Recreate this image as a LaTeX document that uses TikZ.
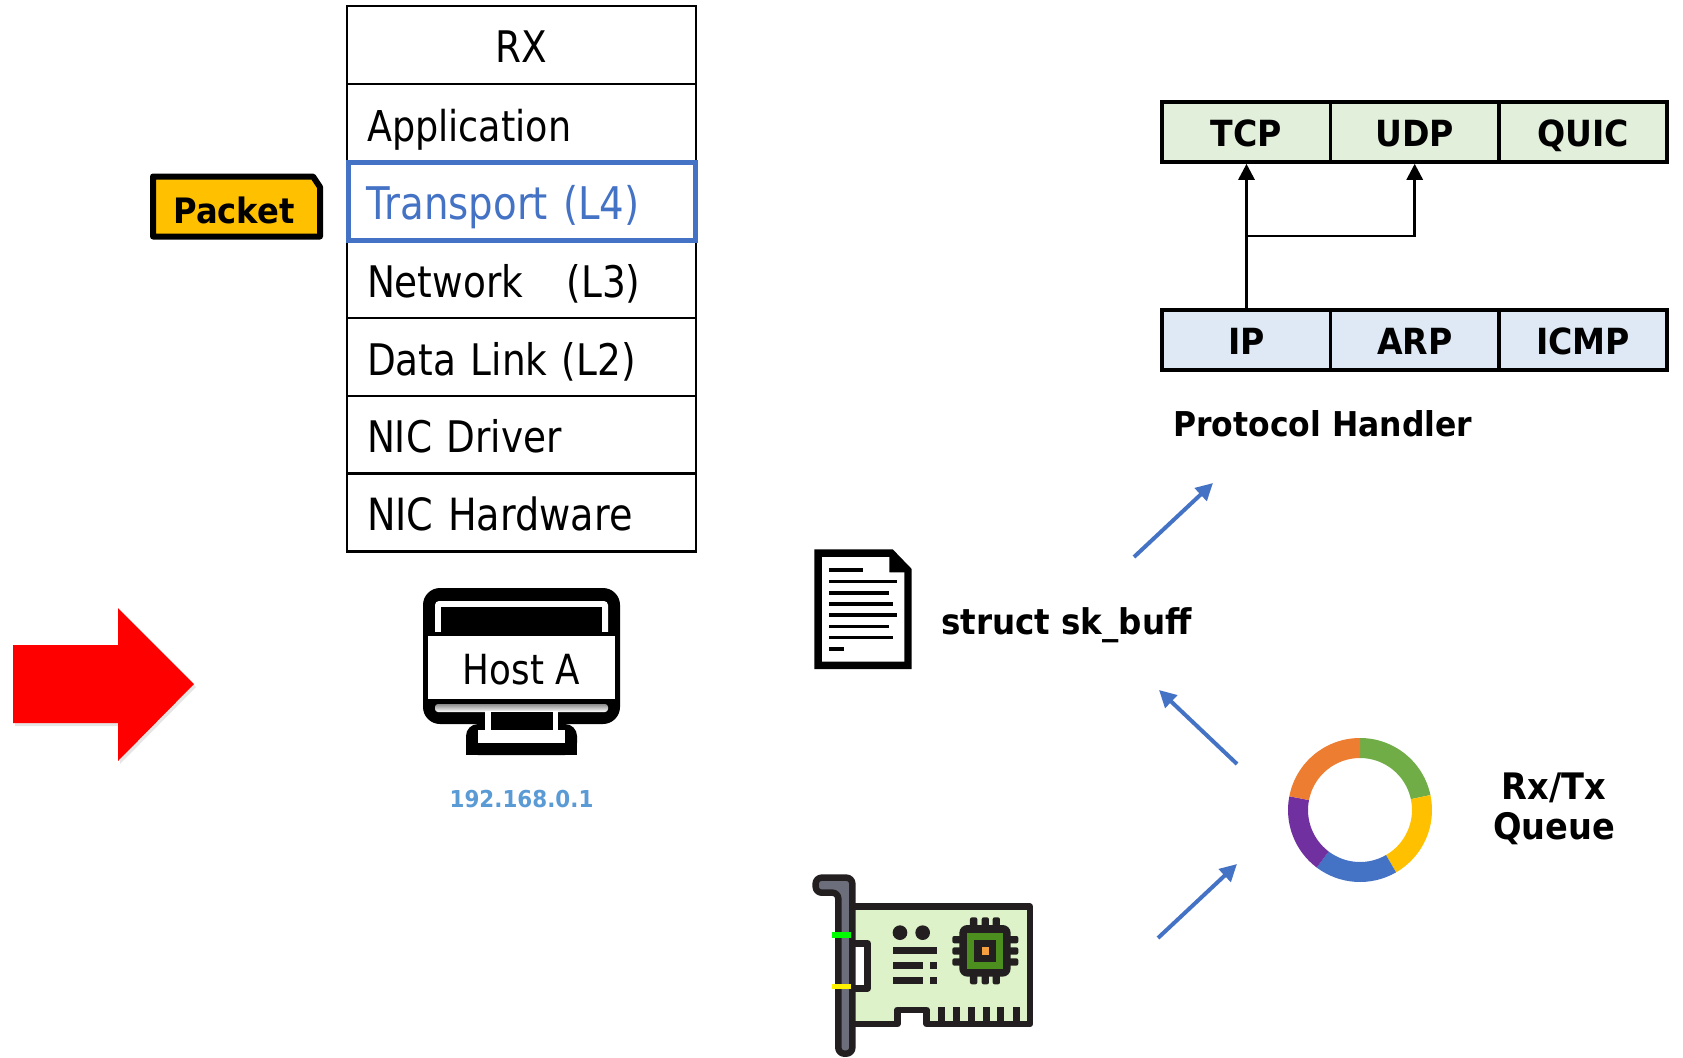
\documentclass[tikz,border=0pt]{standalone}
\usepackage{fontspec}
\usetikzlibrary{arrows.meta,calc}
\setmainfont{DejaVu Sans}
\newfontfamily\regfont[FakeStretch=0.86]{DejaVu Sans}
\newfontfamily\boldfont[FakeStretch=0.92]{DejaVu Sans Bold}
\definecolor{blueln}{HTML}{4472C4}
\definecolor{ipblue}{HTML}{5B9BD5}
\definecolor{amber}{HTML}{FFC000}
\definecolor{greenbox}{HTML}{E2EFDA}
\definecolor{bluebox}{HTML}{DEE9F5}
\definecolor{nicdark}{HTML}{231F20}
\definecolor{nicboard}{HTML}{DDF2C8}
\definecolor{nicgrey}{HTML}{6D6E7B}
\definecolor{chipgreen}{HTML}{4C8F1E}
\definecolor{chiporange}{HTML}{F5A040}
\tikzset{
  layer/.style={draw=black,line width=2.6pt,minimum width=349pt,minimum height=77.8pt,
    inner sep=0pt,text width=309pt,align=left,text height=44pt,text depth=8pt,
    font=\regfont\fontsize{43.5}{46}\selectfont},
  hilite/.style={layer,draw=blueln,line width=5pt,text=blueln,minimum width=347pt,text width=310pt,
    font=\regfont\fontsize{45}{48}\selectfont},
  cell/.style={draw=black,line width=3.6pt,minimum width=168.5pt,minimum height=60pt,inner sep=0pt,
    text height=28pt,text depth=0pt,font=\boldfont\fontsize{36}{40}\selectfont},
  tcell/.style={cell,fill=greenbox},
  bcell/.style={cell,fill=bluebox},
  lbl/.style={inner sep=0pt,font=\boldfont\fontsize{35}{40}\selectfont,align=center},
  flow/.style={draw=blueln,line width=4pt,-{Triangle[length=17pt,width=17pt]}},
  link/.style={draw=black,line width=2.8pt,-{Triangle[length=16pt,width=16pt]}},
  nicline/.style={draw=nicdark,line width=6.5pt,line join=round},
}
\begin{document}
\begin{tikzpicture}[x=1pt,y=-1pt]
\path[use as bounding box] (0,0) rectangle (1683,1057);

% protocol stack
\node[layer,align=center] (rx)  at (521.5,45)  {RX};
\node[layer,font=\regfont\fontsize{42.5}{46}\selectfont] (app) at (521.5,123) {Application};
\node[layer] (net) at (521.5,279)  {Network\hspace{1em}(L3)};
\node[layer] (dl)  at (521.5,357)  {Data Link (L2)};
\node[layer] (drv) at (521.5,434.7)  {NIC Driver};
\node[layer,font=\regfont\fontsize{44.4}{46}\selectfont] (hw)  at (521.5,512.5)  {NIC Hardware};
\node[hilite] (tr) at (521.5,201.3) {Transport (L4)};

% packet
\draw[line width=6pt,fill=amber,line join=round] (153,176.5) -- (313,176.5) -- (320,187) -- (320,236.5) -- (153,236.5) -- cycle;
\node[lbl] (pkt) at (234,210) {Packet};

% red arrow
\fill[black,opacity=.1] (15,648) -- (120,648) -- (120,611) -- (196,687) -- (120,764) -- (120,726) -- (15,726) -- cycle;
\fill[red] (13,645) -- (118,645) -- (118,608) -- (194,684) -- (118,761) -- (118,723) -- (13,723) -- cycle;

% monitor
\fill[black,rounded corners=17pt] (423,588) rectangle (620,724);
\fill[black,rounded corners=12pt] (466,755) -- (466,724) -- (577,724) -- (577,755) -- cycle;
\fill[black] (466,740) rectangle (577,755);
\fill[white,rounded corners=4pt] (435,601) rectangle (608,640);
\fill[black] (441,607) rectangle (602,640);
\fill[black] (428,632) rectangle (615,640);
\shade[top color=black!45,bottom color=white,rounded corners=3pt] (435,704) rectangle (608,712);
\fill[white] (485,711) rectangle (558,724);
\fill[black] (491,712) rectangle (553,730);
\fill[white] (485,724) rectangle (491,731);
\fill[white] (553,724) rectangle (558,731);
\fill[white] (478,730) rectangle (565,743);
\node[fill=white,minimum width=187pt,minimum height=63pt,inner sep=0pt,text height=34pt,text depth=0pt,font=\regfont\fontsize{41.5}{44}\selectfont] (host) at (521.5,667.5) {Host A};
\node[inner sep=0pt,text=ipblue,font=\boldfont\fontsize{23.3}{28}\selectfont] (ip) at (521.5,799.5) {192.168.0.1};

% document icon
\fill[black] (814.3,549.3) -- (892.7,549.3) -- (911.7,569) -- (911.7,669) -- (814.3,669) -- cycle;
\fill[white] (822,557) -- (889.3,557) -- (889.3,572.3) -- (904.3,572.3) -- (904.3,661.7) -- (822,661.7) -- cycle;
\foreach \yy/\xx in {40/73.3,51.3/107,62.7/99.3,73.7/103.3,85/107,96.3/99.3,107.3/103.3,118.7/54.3}{
  \fill[black] (829.3,530+\yy-1.8) rectangle (790+\xx,530+\yy+1.8);
}
\node[lbl,font=\boldfont\fontsize{35.4}{40}\selectfont,anchor=west] (skb) at (941,625) {struct sk\_buff};

% NIC icon (coordinates in 3x crop units)
\begin{scope}[shift={(790,860)},x=.3333pt,y=-.3333pt]
  % board
  \draw[nicline,fill=nicboard] (170,140) -- (720,140) -- (720,492) -- (410,492) -- (410,450) -- (322,450) -- (322,492) -- (170,492) -- cycle;
  \foreach \tx in {455,500,545,590,632,680}{ \fill[nicdark] (\tx-10,440) rectangle (\tx+10,495); }
  % tab
  \draw[nicline,fill=white] (190,250) -- (233,250) -- (233,385) -- (190,385);
  % bracket
  \draw[nicline,fill=nicgrey,rounded corners=6pt] (77,53) -- (187,53) -- (187,581) -- (145,581) -- (145,98) -- (77,98) -- cycle;
  % marks
  \fill[green] (127,216) rectangle (184,233);
  \fill[yellow] (127,372) rectangle (184,388);
  % circles and bars
  \fill[nicdark] (330,218) circle (22);
  \fill[nicdark] (398,218) circle (22);
  \fill[nicdark] (310,262) rectangle (442,283);
  \fill[nicdark] (310,307) rectangle (398,328);
  \fill[nicdark] (420,307) rectangle (442,328);
  \fill[nicdark] (310,350) rectangle (398,372);
  \fill[nicdark] (420,350) rectangle (442,372);
  % chip
  \foreach \p in {540,575,608}{
    \fill[nicdark,rounded corners=2pt] (\p,172) rectangle (\p+22,373);
  }
  \foreach \p in {228,262,295}{
    \fill[nicdark,rounded corners=2pt] (487,\p) rectangle (685,\p+22);
  }
  \fill[nicdark,rounded corners=8pt] (508,195) rectangle (662,350);
  \fill[chipgreen] (530,218) rectangle (640,328);
  \fill[nicdark] (552,240) rectangle (618,306);
  \fill[chiporange] (575,262) rectangle (597,284);
\end{scope}

% ring (y axis points down, so angles run clockwise)
\begin{scope}[shift={(1360,810)}]
  \foreach \a/\b/\c in {-90/-12/70AD47,-12/60/FFC000,60/127/4472C4,127/191/7030A0,191/270/ED7D31}{
    \definecolor{seg}{HTML}{\c}
    \fill[seg] (\a:72) arc[start angle=\a,end angle=\b,radius=72] -- (\b:52) arc[start angle=\b,end angle=\a,radius=52] -- cycle;
  }
\end{scope}
\node[lbl,align=center,font=\boldfont\fontsize{36.5}{40}\selectfont] (rxq) at (1554,809) {Rx/Tx\\Queue};

% protocol cells
\node[tcell] (tcp)  at (1246.5,132) {TCP};
\node[tcell] (udp)  at (1414.7,132) {UDP};
\node[tcell] (quic) at (1583,132) {QUIC};
\node[bcell] (ipc)  at (1246.5,340) {IP};
\node[bcell] (arp)  at (1414.7,340) {ARP};
\node[bcell] (icmp) at (1583,340) {ICMP};
\node[lbl,font=\boldfont\fontsize{34.2}{40}\selectfont,anchor=west] (ph) at (1173,423.5) {Protocol Handler};

\coordinate (j) at (ipc.north |- 0,236);
\draw[link] (ipc.north) -- (tcp.south);
\draw[link] (j) -- (udp.south |- j) -- (udp.south);

% flow arrows
\coordinate (a1s) at (1134,557); \coordinate (a1e) at (1213,483);
\coordinate (a2s) at (1237,764); \coordinate (a2e) at (1159,690);
\coordinate (a3s) at (1158,938); \coordinate (a3e) at (1237,864);
\draw[flow] (a1s) -- (a1e);
\draw[flow] (a2s) -- (a2e);
\draw[flow] (a3s) -- (a3e);
\end{tikzpicture}
\end{document}
